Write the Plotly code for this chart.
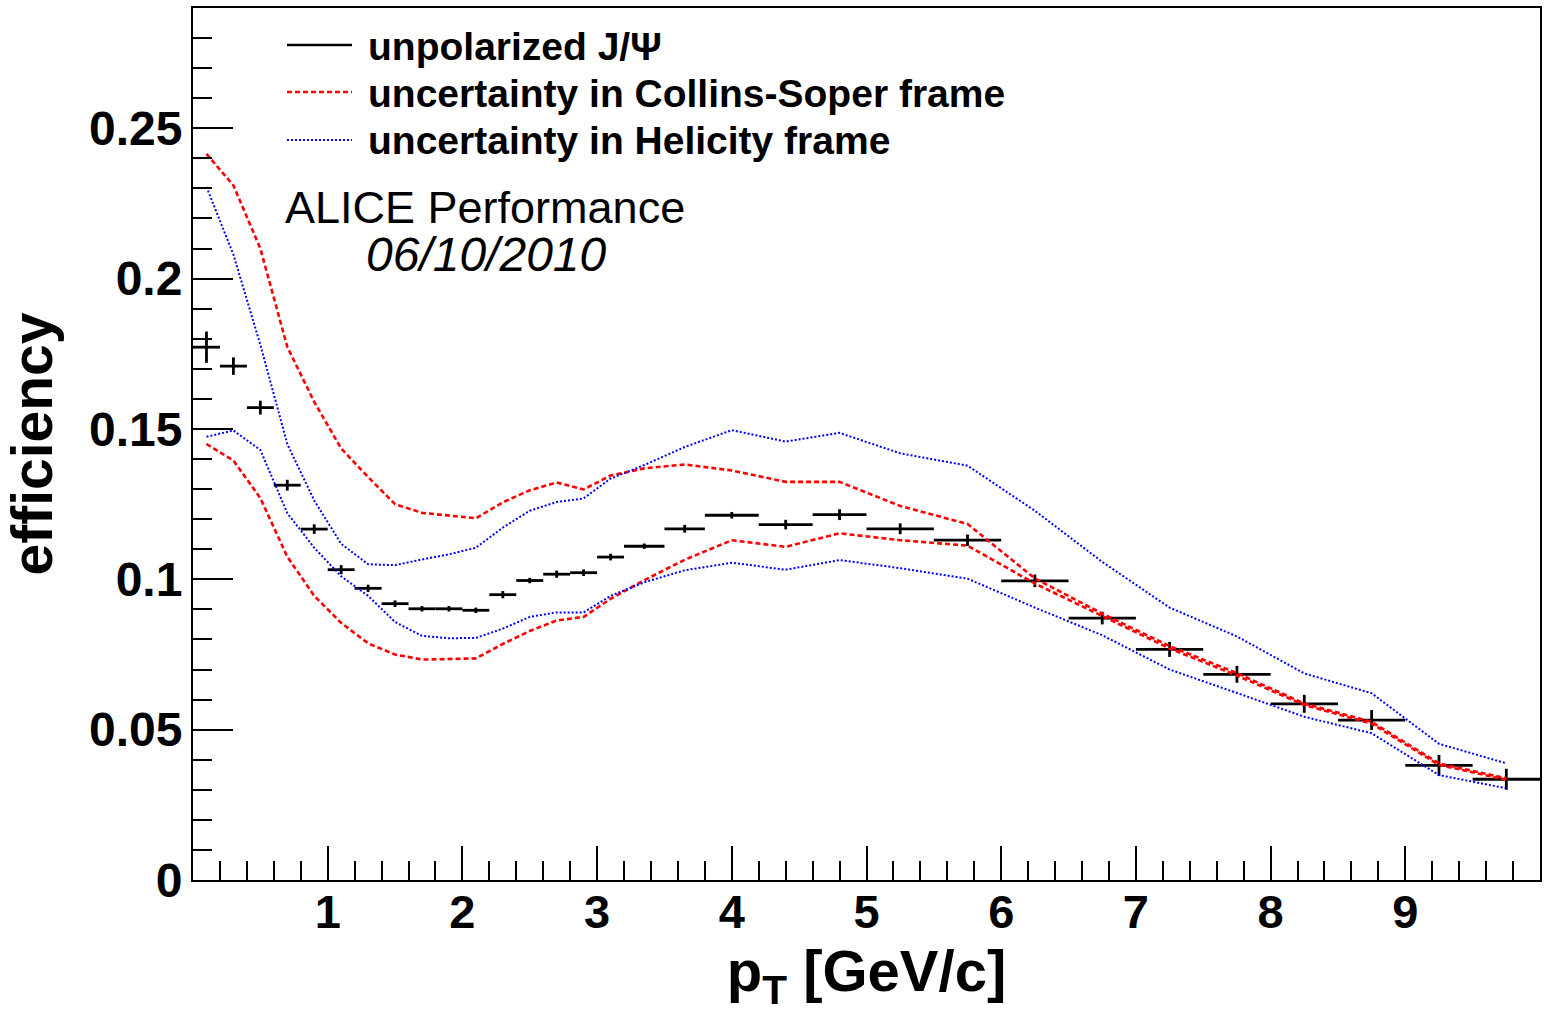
import plotly.graph_objects as go

# ---------------- data ----------------
pt = [0.1, 0.3, 0.5, 0.7, 0.9, 1.1, 1.3, 1.5, 1.7, 1.9, 2.1, 2.3, 2.5, 2.7, 2.9, 3.1,
      3.35, 3.65, 4.0, 4.4, 4.8, 5.25, 5.75, 6.25, 6.75, 7.25, 7.75, 8.25, 8.75, 9.25, 9.75]
pt_halfwidth = [0.1] * 16 + [0.15, 0.15, 0.2, 0.2, 0.2] + [0.25] * 10
eff = [0.1772, 0.1709, 0.1571, 0.1313, 0.1167, 0.1032, 0.0970, 0.0919, 0.0902, 0.0902,
       0.0897, 0.0949, 0.0996, 0.1017, 0.1022, 0.1074, 0.1110, 0.1168, 0.1213, 0.1182,
       0.1215, 0.1168, 0.1130, 0.0995, 0.0871, 0.0767, 0.0684, 0.0586, 0.0532, 0.0381, 0.0335]
eff_err = [0.0052, 0.0029, 0.0023, 0.0018, 0.0016, 0.0015, 0.0012, 0.0011, 0.0009, 0.0009,
           0.0009, 0.0012, 0.0009, 0.0012, 0.0011, 0.0011, 0.0009, 0.0013, 0.0011, 0.0016,
           0.0018, 0.0018, 0.0019, 0.0021, 0.0021, 0.0025, 0.0028, 0.0030, 0.0033, 0.0035, 0.0035]

cs_upper = [0.2415, 0.2310, 0.2100, 0.1773, 0.1590, 0.1435, 0.1340, 0.1250, 0.1221, 0.1213,
            0.1203, 0.1256, 0.1296, 0.1322, 0.1299, 0.1345, 0.1369, 0.1382, 0.1362, 0.1324,
            0.1324, 0.1244, 0.1184, 0.1003, 0.0886, 0.0778, 0.0688, 0.0587, 0.0526, 0.0388, 0.0338]
cs_lower = [0.1450, 0.1395, 0.1270, 0.1075, 0.0945, 0.0855, 0.0787, 0.0750, 0.0733, 0.0736,
            0.0737, 0.0785, 0.0828, 0.0863, 0.0875, 0.0935, 0.0997, 0.1065, 0.1130, 0.1108,
            0.1153, 0.1130, 0.1112, 0.0986, 0.0877, 0.0770, 0.0680, 0.0582, 0.0520, 0.0383, 0.0333]
hx_upper = [0.2305, 0.2080, 0.1780, 0.1450, 0.1262, 0.1118, 0.1050, 0.1047, 0.1066, 0.1083,
            0.1105, 0.1172, 0.1228, 0.1257, 0.1269, 0.1335, 0.1380, 0.1440, 0.1496, 0.1458,
            0.1487, 0.1419, 0.1378, 0.1228, 0.1058, 0.0906, 0.0810, 0.0687, 0.0621, 0.0453, 0.0388]
hx_lower = [0.1474, 0.1495, 0.1430, 0.1220, 0.1105, 0.1010, 0.0945, 0.0858, 0.0812, 0.0804,
            0.0805, 0.0836, 0.0875, 0.0890, 0.0890, 0.0945, 0.0990, 0.1030, 0.1055, 0.1032,
            0.1064, 0.1037, 0.1002, 0.0906, 0.0814, 0.0700, 0.0622, 0.0543, 0.0488, 0.0349, 0.0305]

x_ticks = [1, 2, 3, 4, 5, 6, 7, 8, 9]
legend_labels = ["unpolarized J/\u03a8", "uncertainty in Collins-Soper frame",
                 "uncertainty in Helicity frame"]

FONT = "Liberation Sans"
W, H = 1544, 1031
ML, MR, MT, MB = 193, 4, 8, 151
PW, PH = W - ML - MR, H - MT - MB


def px_x(px):
    return (px - ML) / PW


def px_y(py):
    return (H - MB - py) / PH


fig = go.Figure()

fig.add_trace(go.Scatter(
    x=pt, y=eff, mode="markers", name=legend_labels[0], showlegend=False,
    marker=dict(size=1, color="black"),
    error_x=dict(type="data", array=pt_halfwidth, color="black", thickness=2.8, width=0),
    error_y=dict(type="data", array=eff_err, color="black", thickness=2.8, width=0),
))

red_line = dict(color="#ff0000", width=2.6, dash="5px,3px")
blue_line = dict(color="#0000ff", width=2, dash="2px,2px")
fig.add_trace(go.Scatter(x=pt, y=cs_upper, mode="lines", line=red_line,
                         name=legend_labels[1], showlegend=False))
fig.add_trace(go.Scatter(x=pt, y=cs_lower, mode="lines", line=red_line,
                         name=legend_labels[1], showlegend=False))
fig.add_trace(go.Scatter(x=pt, y=hx_upper, mode="lines", line=blue_line,
                         name=legend_labels[2], showlegend=False))
fig.add_trace(go.Scatter(x=pt, y=hx_lower, mode="lines", line=blue_line,
                         name=legend_labels[2], showlegend=False))

# ---- manual legend (ROOT-like) ----
leg_rows = [45, 92, 140]
leg_styles = [dict(color="black", width=2.5),
              dict(color="#ff0000", width=2.5, dash="5px,3px"),
              dict(color="#0000ff", width=2, dash="2px,2px")]
shapes = []
annotations = []
for row, style, label in zip(leg_rows, leg_styles, legend_labels):
    shapes.append(dict(type="line", xref="paper", yref="paper",
                       x0=px_x(287), x1=px_x(352), y0=px_y(row), y1=px_y(row), line=style))
    annotations.append(dict(text=label, xref="paper", yref="paper", x=px_x(366), y=px_y(row + 1),
                            xanchor="left", yanchor="middle", showarrow=False,
                            font=dict(family=FONT, size=39, color="black", weight="bold")))

annotations.append(dict(text="ALICE Performance", xref="paper", yref="paper",
                        x=px_x(283), y=px_y(208), xanchor="left", yanchor="middle",
                        showarrow=False, font=dict(family=FONT, size=45, color="black")))
annotations.append(dict(text="06/10/2010", xref="paper", yref="paper",
                        x=px_x(364), y=px_y(254), xanchor="left", yanchor="middle",
                        showarrow=False,
                        font=dict(family=FONT, size=48, color="black", style="italic")))

axis_common = dict(showline=True, linewidth=2, linecolor="black", mirror=True,
                   showgrid=False, zeroline=False, ticks="inside", tickcolor="black",
                   tickwidth=1.5, automargin=False)

fig.update_layout(
    width=W, height=H,
    margin=dict(l=ML, r=MR, t=MT, b=MB, pad=0),
    paper_bgcolor="white", plot_bgcolor="white",
    showlegend=False,
    shapes=shapes, annotations=annotations,
    xaxis=dict(range=[0, 10], tickmode="array", tickvals=x_ticks, ticklen=34,
               ticklabelstandoff=-10,
               tickfont=dict(family=FONT, size=47, color="black", weight="bold"),
               minor=dict(ticks="inside", ticklen=19, tickmode="linear", tick0=0, dtick=0.2,
                          tickcolor="black", tickwidth=1.5),
               title=dict(text="p<sub>T</sub> [GeV/c]", standoff=10,
                          font=dict(family=FONT, size=58, color="black", weight="bold")),
               **axis_common),
    yaxis=dict(range=[0, 0.29], tickmode="linear", tick0=0, dtick=0.05, ticklen=40,
               ticklabelstandoff=-1,
               tickfont=dict(family=FONT, size=48, color="black", weight="bold"),
               minor=dict(ticks="inside", ticklen=19, tickmode="linear", tick0=0, dtick=0.01,
                          tickcolor="black", tickwidth=1.5),
               title=dict(text="efficiency", standoff=20,
                          font=dict(family=FONT, size=57, color="black", weight="bold")),
               **axis_common),
)

fig.write_html("out.html", config={"displayModeBar": False},
               post_script="document.body.style.margin='0';")
